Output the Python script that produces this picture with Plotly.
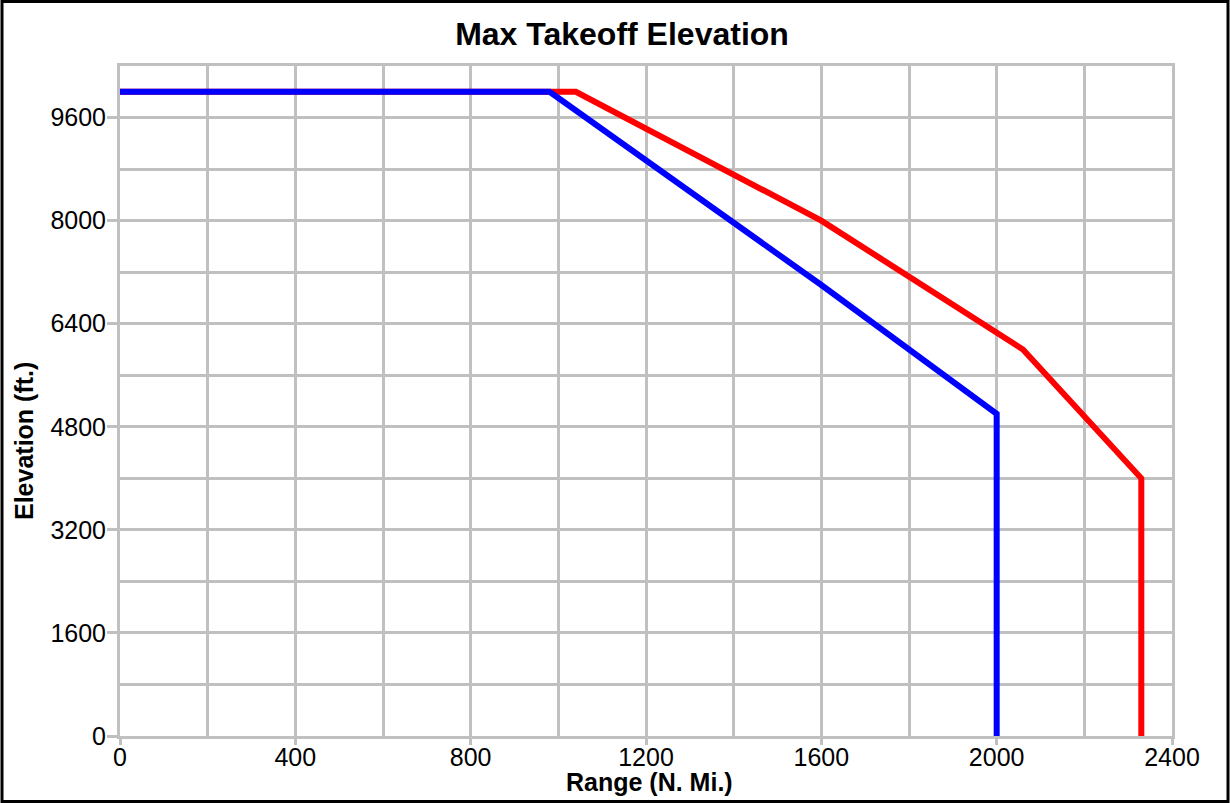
import plotly.graph_objects as go

# Data
blue_range = [0, 980, 1600, 2000, 2000]
blue_elev = [10000, 10000, 7000, 5000, 0]
red_range = [0, 1040, 1600, 2060, 2330, 2330]
red_elev = [10000, 10000, 8000, 6000, 4000, 0]

x_ticks = [0, 400, 800, 1200, 1600, 2000, 2400]
y_ticks = [0, 1600, 3200, 4800, 6400, 8000, 9600]

W, H = 1230, 803
L, R, T, B = 120, 58, 66, 67
pw, ph = W - L - R, H - T - B

FONT = "Liberation Sans, Arial, sans-serif"
GRID = "#c0c0c0"

fig = go.Figure()
fig.add_trace(go.Scatter(x=red_range, y=red_elev, mode="lines",
                         line=dict(color="#ff0000", width=6), hoverinfo="skip"))
fig.add_trace(go.Scatter(x=blue_range, y=blue_elev, mode="lines",
                         line=dict(color="#0000ff", width=6), hoverinfo="skip"))

fig.update_layout(
    width=W, height=H,
    margin=dict(l=L, r=R, t=T, b=B, pad=0),
    paper_bgcolor="white", plot_bgcolor="white",
    showlegend=False,
    font=dict(family=FONT, size=25, color="black"),
    title=dict(text="<b>Max Takeoff Elevation</b>", x=622 / W, xanchor="center",
               y=1 - 34 / H, yanchor="middle", yref="container",
               font=dict(family=FONT, size=32, color="black")),
)

fig.update_xaxes(
    range=[0, 2400], tickvals=x_ticks, ticktext=[str(v) for v in x_ticks],
    showgrid=True, gridcolor=GRID, gridwidth=3,
    minor=dict(dtick=200, showgrid=True, gridcolor=GRID, gridwidth=3, ticks=""),
    ticks="outside", ticklen=6, tickwidth=3, tickcolor=GRID,
    showline=True, linecolor=GRID, linewidth=3, mirror=True,
    zeroline=False, tickfont=dict(family=FONT, size=25, color="black"),
    ticklabelstandoff=-9,
)
fig.update_yaxes(
    range=[0, 10400], tickvals=y_ticks, ticktext=[str(v) for v in y_ticks],
    showgrid=True, gridcolor=GRID, gridwidth=3,
    minor=dict(dtick=800, showgrid=True, gridcolor=GRID, gridwidth=3, ticks=""),
    ticks="outside", ticklen=10, tickwidth=3, tickcolor=GRID,
    showline=True, linecolor=GRID, linewidth=3, mirror=True,
    zeroline=False, tickfont=dict(family=FONT, size=25, color="black"),
    ticklabelstandoff=-4,
)

fig.add_annotation(text="<b>Range (N. Mi.)</b>", xref="paper", yref="paper",
                   x=(649 - L) / pw, y=(H - B - 782) / ph, xanchor="center", yanchor="middle",
                   showarrow=False, font=dict(family=FONT, size=25, color="black"))
fig.add_annotation(text="<b>Elevation (ft.)</b>", xref="paper", yref="paper",
                   x=(24 - L) / pw, y=(H - B - 441) / ph, xanchor="center", yanchor="middle",
                   textangle=-90, showarrow=False, font=dict(family=FONT, size=25, color="black"))

fig.add_shape(type="rect", xref="paper", yref="paper",
              x0=(2 - L) / pw, x1=(W - 2 - L) / pw,
              y0=(H - B - (H - 1.5)) / ph, y1=(H - B - 1.5) / ph,
              line=dict(color="black", width=3), fillcolor="rgba(0,0,0,0)", layer="below")

fig.write_html("out.html",
               config={"displayModeBar": False},
               post_script="document.body.style.margin='0';document.body.style.padding='0';"
                           "document.body.style.overflow='hidden';")
